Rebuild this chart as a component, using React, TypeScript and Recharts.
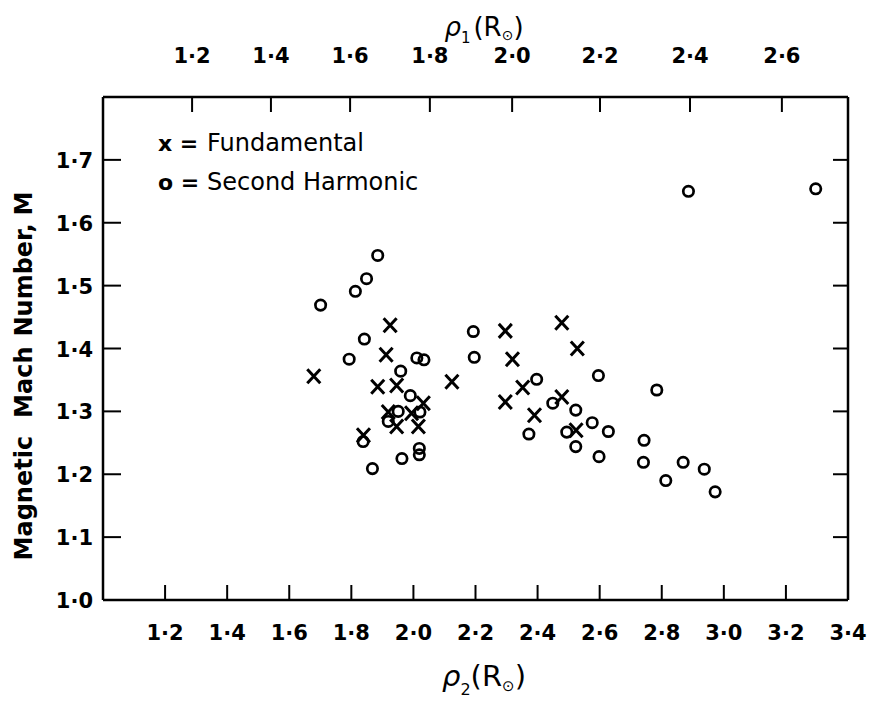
import React from 'react';
import { ScatterChart, Scatter, XAxis, YAxis, Label } from 'recharts';

// Fundamental (x markers)
const fundamentalRho2 = [1.679, 1.925, 1.912, 1.885, 1.946, 2.124, 2.032, 1.919, 1.994, 1.946, 2.016, 1.839, 2.296, 2.478, 2.528, 2.319, 2.352, 2.296, 2.478, 2.390, 2.524];
const fundamentalMach = [1.356, 1.437, 1.390, 1.339, 1.341, 1.347, 1.313, 1.299, 1.297, 1.276, 1.276, 1.262, 1.428, 1.441, 1.400, 1.383, 1.338, 1.315, 1.323, 1.294, 1.270];

// Second harmonic (o markers)
const harmonicRho2 = [1.885, 1.849, 1.813, 1.701, 1.842, 1.793, 2.011, 2.034, 2.193, 2.196, 1.959, 1.990, 1.951, 2.021, 1.919, 1.838, 2.019, 2.019, 1.963, 1.868, 2.397, 2.596, 2.784, 2.449, 2.523, 2.576, 2.372, 2.494, 2.628, 2.523, 2.598, 2.743, 2.741, 2.813, 2.869, 2.937, 2.972, 2.886, 3.296];
const harmonicMach = [1.548, 1.511, 1.491, 1.469, 1.415, 1.383, 1.385, 1.382, 1.427, 1.386, 1.364, 1.325, 1.300, 1.299, 1.284, 1.252, 1.241, 1.231, 1.225, 1.209, 1.351, 1.357, 1.334, 1.313, 1.302, 1.282, 1.264, 1.267, 1.268, 1.244, 1.228, 1.254, 1.219, 1.190, 1.219, 1.208, 1.172, 1.650, 1.654];

// Bottom axis (rho2)
const bottomTicks = [1.2, 1.4, 1.6, 1.8, 2.0, 2.2, 2.4, 2.6, 2.8, 3.0, 3.2, 3.4];
const bottomTickLabels = ['1·2', '1·4', '1·6', '1·8', '2·0', '2·2', '2·4', '2·6', '2·8', '3·0', '3·2', '3·4'];
// Top axis (rho1), positions expressed on the rho2 scale
const topTickPositions = [1.287, 1.541, 1.796, 2.053, 2.318, 2.601, 2.891, 3.187];
const topTickLabels = ['1·2', '1·4', '1·6', '1·8', '2·0', '2·2', '2·4', '2·6'];
// Y axis
const yTicks = [1.0, 1.1, 1.2, 1.3, 1.4, 1.5, 1.6, 1.7];
const yTickLabels = ['1·0', '1·1', '1·2', '1·3', '1·4', '1·5', '1·6', '1·7'];

const fundamentalData = fundamentalRho2.map((x, i) => ({ x, y: fundamentalMach[i] }));
const harmonicData = harmonicRho2.map((x, i) => ({ x, y: harmonicMach[i] }));

const FONT = '"DejaVu Sans", sans-serif';
const TICK_LEN = 15;

const labelFor = (ticks: number[], labels: string[], v: number) => {
  const i = ticks.findIndex((t) => Math.abs(t - v) < 1e-6);
  return i >= 0 ? labels[i] : '';
};

const BottomTick = (props: any) => {
  const { x, y, payload } = props;
  const v = payload.value;
  return (
    <g>
      {v < 3.39 && <line x1={x} x2={x} y1={y} y2={y - TICK_LEN} stroke="#000" strokeWidth={2} />}
      <text x={x} y={y + 40} textAnchor="middle" fontFamily={FONT} fontWeight="bold" fontSize={21} fill="#000">
        {labelFor(bottomTicks, bottomTickLabels, v)}
      </text>
    </g>
  );
};

const TopTick = (props: any) => {
  const { x, y, payload } = props;
  const v = payload.value;
  return (
    <g>
      <line x1={x} x2={x} y1={y} y2={y + TICK_LEN} stroke="#000" strokeWidth={2} />
      <text x={x} y={y - 34} textAnchor="middle" fontFamily={FONT} fontWeight="bold" fontSize={21} fill="#000">
        {labelFor(topTickPositions, topTickLabels, v)}
      </text>
    </g>
  );
};

const LeftTick = (props: any) => {
  const { x, y, payload } = props;
  const v = payload.value;
  return (
    <g>
      {v > 1.01 && <line x1={x} x2={x + TICK_LEN + 3} y1={y} y2={y} stroke="#000" strokeWidth={2} />}
      <text x={x - 10} y={y + 8} textAnchor="end" fontFamily={FONT} fontWeight="bold" fontSize={21} fill="#000">
        {labelFor(yTicks, yTickLabels, v)}
      </text>
    </g>
  );
};

const RightTick = (props: any) => {
  const { x, y, payload } = props;
  const v = payload.value;
  if (v < 1.01) return <g />;
  return <line x1={x} x2={x - TICK_LEN} y1={y} y2={y} stroke="#000" strokeWidth={2} />;
};

const Cross = (props: any) => {
  const { cx, cy } = props;
  const sx = 6.5;
  const sy = 7;
  return (
    <path
      d={`M${cx - sx},${cy - sy}L${cx + sx},${cy + sy}M${cx + sx},${cy - sy}L${cx - sx},${cy + sy}`}
      stroke="#000"
      strokeWidth={3}
      fill="none"
    />
  );
};

const Ring = (props: any) => {
  const { cx, cy } = props;
  return <circle cx={cx} cy={cy} r={5.2} stroke="#000" strokeWidth={2.7} fill="none" />;
};

const Nothing = () => <g />;

const TopTitle = () => (
  <text x={476} y={28} textAnchor="middle" fontFamily={FONT} fontSize={26} fill="#000">
    <tspan fontStyle="italic">ρ</tspan>
    <tspan fontSize={15} dy={7}>1</tspan>
    <tspan dy={-7} dx={3}>(R</tspan>
    <tspan fontSize={14} dy={4}>⊙</tspan>
    <tspan dy={-4}>)</tspan>
  </text>
);

const BottomTitle = () => (
  <text x={476} y={678} textAnchor="middle" fontFamily={FONT} fontSize={29} fill="#000">
    <tspan fontStyle="italic">ρ</tspan>
    <tspan fontSize={16} dy={9}>2</tspan>
    <tspan dy={-9}>(R</tspan>
    <tspan fontSize={15} dy={5}>⊙</tspan>
    <tspan dy={-5}>)</tspan>
  </text>
);

const YTitle = () => (
  <text
    x={0}
    y={0}
    transform="translate(24,368) rotate(-90)"
    textAnchor="middle"
    fontFamily={FONT}
    fontWeight="bold"
    fontSize={24}
    fill="#000"
  >
    <tspan>Magnetic</tspan>
    <tspan dx={18}>Mach</tspan>
    <tspan dx={10}>Number,</tspan>
    <tspan dx={8}>M</tspan>
  </text>
);

const LegendText = () => (
  <g fontFamily={FONT} fontSize={24} fill="#000">
    <text x={150} y={143} fontWeight="bold" fontSize={22}>x =</text>
    <text x={199} y={143}>Fundamental</text>
    <text x={150} y={182} fontWeight="bold" fontSize={22}>o =</text>
    <text x={199} y={182}>Second Harmonic</text>
  </g>
);

export default function App() {
  return (
    <ScatterChart width={876} height={696} margin={{ top: 49, right: 26, bottom: 44, left: 35 }}>
      <XAxis
        xAxisId="bottom"
        type="number"
        dataKey="x"
        orientation="bottom"
        domain={[1.0, 3.4]}
        allowDataOverflow
        ticks={bottomTicks}
        interval={0}
        height={60}
        tickSize={0}
        tickMargin={0}
        tickLine={false}
        tick={<BottomTick />}
        axisLine={{ stroke: '#000', strokeWidth: 2.5 }}
      >
        <Label content={<BottomTitle />} />
      </XAxis>
      <XAxis
        xAxisId="top"
        type="number"
        dataKey="x"
        orientation="top"
        domain={[1.0, 3.4]}
        allowDataOverflow
        ticks={topTickPositions}
        interval={0}
        height={40}
        tickSize={0}
        tickMargin={0}
        tickLine={false}
        tick={<TopTick />}
        axisLine={{ stroke: '#000', strokeWidth: 2.5 }}
      >
        <Label content={<TopTitle />} />
      </XAxis>
      <YAxis
        yAxisId="left"
        type="number"
        dataKey="y"
        domain={[1.0, 1.8]}
        allowDataOverflow
        ticks={yTicks}
        interval={0}
        width={60}
        tickSize={0}
        tickMargin={0}
        tickLine={false}
        tick={<LeftTick />}
        axisLine={{ stroke: '#000', strokeWidth: 2.5 }}
      >
        <Label content={<YTitle />} />
      </YAxis>
      <YAxis
        yAxisId="right"
        type="number"
        dataKey="y"
        orientation="right"
        domain={[1.0, 1.8]}
        allowDataOverflow
        ticks={yTicks}
        interval={0}
        width={10}
        tickSize={0}
        tickMargin={0}
        tickLine={false}
        tick={<RightTick />}
        axisLine={{ stroke: '#000', strokeWidth: 2.5 }}
      >
        <Label content={<LegendText />} />
      </YAxis>
      <Scatter
        name="Fundamental"
        data={fundamentalData}
        xAxisId="bottom"
        yAxisId="left"
        shape={<Cross />}
        isAnimationActive={false}
      />
      <Scatter
        name="Second Harmonic"
        data={harmonicData}
        xAxisId="bottom"
        yAxisId="left"
        shape={<Ring />}
        isAnimationActive={false}
      />
      <Scatter
        name="frame"
        data={harmonicData}
        xAxisId="top"
        yAxisId="right"
        shape={<Nothing />}
        legendType="none"
        isAnimationActive={false}
      />
    </ScatterChart>
  );
}
